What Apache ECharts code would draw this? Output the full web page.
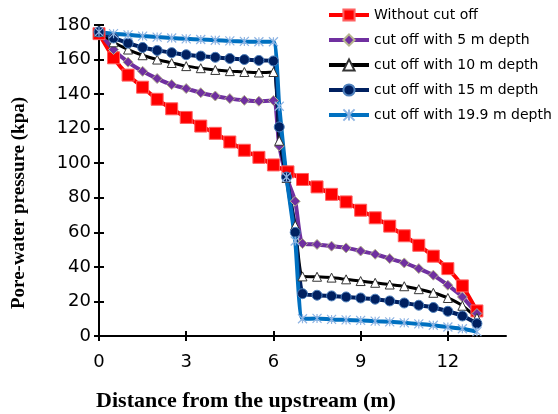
<!DOCTYPE html>
<html>
<head>
<meta charset="utf-8">
<title>Pore-water pressure along the dam base</title>
<script src="https://cdn.jsdelivr.net/npm/echarts@6/dist/echarts.min.js"></script>
<style>
  html, body { margin: 0; padding: 0; background: #fff; }
  #chart { width: 558px; height: 414px; }
</style>
</head>
<body>
<div id="chart"></div>
<script>
// Distance from the upstream toe (m)
const distance = [0, 0.5, 1, 1.5, 2, 2.5, 3, 3.5, 4, 4.5, 5, 5.5, 6, 6.5, 7, 7.5, 8, 8.5, 9, 9.5, 10, 10.5, 11, 11.5, 12, 12.5, 13];
// Cut-off cases carry extra nodes across the sheet pile
const cutDistance = [0, 0.5, 1, 1.5, 2, 2.5, 3, 3.5, 4, 4.5, 5, 5.5, 6, 6.2, 6.45, 6.75, 7, 7.5, 8, 8.5, 9, 9.5, 10, 10.5, 11, 11.5, 12, 12.5, 13];

// Pore-water pressure (kPa)
const withoutCutoff = [175, 161, 151, 144, 137, 131.5, 126.5, 121.5, 117.3, 112.3, 107.5, 103.4, 99, 95, 90.6, 86.3, 82, 77.6, 72.8, 68.4, 63.6, 58, 52.5, 46.2, 39, 29, 14.5];
const cutoff5m = [176, 165.8, 158.5, 153.2, 149, 145.5, 143.2, 140.8, 138.9, 137.4, 136.4, 135.9, 136.3, 110, 92, 78, 53.5, 53, 52, 51, 49.2, 47.3, 44.8, 42.3, 39, 35.2, 29.4, 22.6, 13];
const cutoff10m = [176, 170, 165.8, 162.5, 160, 158, 156.2, 155, 154, 153.3, 152.8, 152.5, 152.8, 113, 91.5, 64, 34.5, 34.3, 33.8, 32.8, 31.8, 30.8, 29.8, 28.8, 27.1, 25, 22, 17.5, 10.5];
const cutoff15m = [176, 172.5, 169.5, 167, 165.3, 164, 162.8, 162, 161.3, 160.6, 160, 159.5, 159.2, 121, 92, 60, 24.5, 23.6, 23.2, 22.6, 22, 21.3, 20.3, 19.1, 17.8, 16.5, 14.3, 11.6, 7.2];
const cutoff199m = [176, 175, 174.3, 173.6, 173, 172.5, 172, 171.6, 171.2, 170.8, 170.5, 170.3, 170.3, 133, 92, 55, 10, 10.2, 9.6, 9.3, 9, 8.6, 8.2, 7.6, 7, 6.2, 5.2, 4.2, 2.5];

// Axis ticks
const xTicks = [0, 3, 6, 9, 12];

const seriesNames = [
  'Without cut off',
  'cut off with 5 m depth',
  'cut off with 10 m depth',
  'cut off with 15 m depth',
  'cut off with 19.9 m depth'
];

const pairs = (xs, ys) => xs.map((x, i) => [x, ys[i]]);

const asterisk = 'path://M0,0L10,10M10,0L0,10M5,0L5,10';
const labelFont = { fontFamily: 'DejaVu Sans', fontSize: 18, color: '#000' };

function xAxisDef(inside) {
  return {
    type: 'value', position: 'bottom', min: 0, max: 14, interval: 3,
    axisLine: { show: !inside, lineStyle: { color: '#000', width: 2 } },
    axisTick: { show: true, inside: inside, length: 5, customValues: xTicks, lineStyle: { color: '#000', width: 2 } },
    axisLabel: { show: !inside, margin: 17, customValues: xTicks, ...labelFont },
    splitLine: { show: false }
  };
}
function yAxisDef(inside) {
  return {
    type: 'value', position: 'left', min: 0, max: 180, interval: 20,
    axisLine: { show: !inside, lineStyle: { color: '#000', width: 2 } },
    axisTick: { show: true, inside: inside, length: 5, lineStyle: { color: '#000', width: 2 } },
    axisLabel: { show: !inside, margin: 8, ...labelFont },
    splitLine: { show: false }
  };
}

const chart = echarts.init(document.getElementById('chart'), null, { renderer: 'canvas' });

chart.setOption({
  backgroundColor: '#fff',
  animation: false,
  grid: { left: 99, top: 25, width: 407, height: 311, containLabel: false },
  xAxis: [xAxisDef(false), xAxisDef(true)],
  yAxis: [yAxisDef(false), yAxisDef(true)],
  legend: {
    orient: 'vertical', left: 327, top: 8, padding: 0,
    itemWidth: 40, itemHeight: 14, itemGap: 11,
    lineStyle: { width: 4 },
    textStyle: { fontFamily: 'DejaVu Sans', fontSize: 14, color: '#000' },
    data: seriesNames
  },
  graphic: [
    {
      type: 'text', x: 246, y: 401,
      style: {
        text: 'Distance from the upstream (m)', fill: '#000',
        font: 'bold 22px "Liberation Serif"', textAlign: 'center', textVerticalAlign: 'middle'
      }
    },
    {
      type: 'text', x: 19, y: 203, rotation: Math.PI / 2,
      style: {
        text: 'Pore-water pressure (kpa)', fill: '#000',
        font: 'bold 19px "Liberation Serif"', textAlign: 'center', textVerticalAlign: 'middle'
      }
    }
  ],
  series: [
    {
      name: seriesNames[0], type: 'line', data: pairs(distance, withoutCutoff),
      smooth: 0.2, symbol: 'rect', symbolSize: 12,
      lineStyle: { color: '#ff0000', width: 4 },
      itemStyle: { color: '#ff0000', borderColor: '#ff6060', borderWidth: 1 }
    },
    {
      name: seriesNames[1], type: 'line', data: pairs(cutDistance, cutoff5m),
      smooth: 0.2, symbol: 'diamond', symbolSize: 10,
      lineStyle: { color: '#7030a0', width: 4 },
      itemStyle: { color: '#7030a0', borderColor: '#b4b48c', borderWidth: 1 }
    },
    {
      name: seriesNames[2], type: 'line', data: pairs(cutDistance, cutoff10m),
      smooth: 0.2, symbol: 'triangle', symbolSize: 9,
      lineStyle: { color: '#000', width: 3 },
      itemStyle: { color: '#fff', borderColor: '#333', borderWidth: 1 }
    },
    {
      name: seriesNames[3], type: 'line', data: pairs(cutDistance, cutoff15m),
      smooth: 0.2, symbol: 'circle', symbolSize: 10,
      lineStyle: { color: '#002060', width: 4 },
      itemStyle: { color: '#002060', borderColor: '#4f81bd', borderWidth: 1 }
    },
    {
      name: seriesNames[4], type: 'line', data: pairs(cutDistance, cutoff199m),
      smooth: 0.2, symbol: asterisk, symbolSize: 9,
      lineStyle: { color: '#0070c0', width: 4 },
      itemStyle: { color: '#8eb4e3', borderColor: '#8eb4e3', borderWidth: 1.2 }
    }
  ]
});
</script>
</body>
</html>
